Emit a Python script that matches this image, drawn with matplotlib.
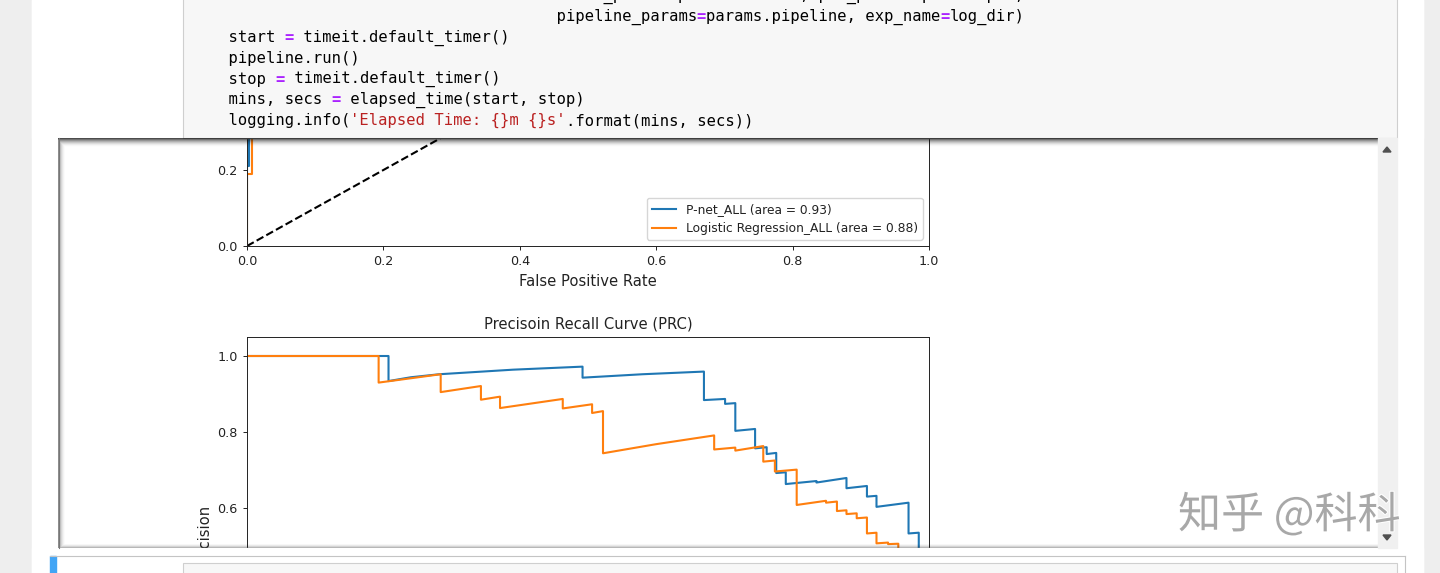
import numpy as np
import matplotlib
matplotlib.use("Agg")
import matplotlib.pyplot as plt
from matplotlib.patches import Rectangle, Polygon
import matplotlib.patheffects as pe

# ===== データ =====
model_names = ["P-net_ALL", "Logistic Regression_ALL"]
model_auc = [0.93, 0.88]

# ROC (only the bottom of it is visible in the screenshot)
roc_pnet_fpr = [0.0, 0.0, 0.003, 0.003, 0.012, 0.012, 0.03, 0.03, 0.06, 0.06,
                0.12, 0.12, 0.25, 0.25, 0.45, 0.45, 1.0]
roc_pnet_tpr = [0.0, 0.21, 0.21, 0.52, 0.52, 0.64, 0.64, 0.72, 0.72, 0.80,
                0.80, 0.88, 0.88, 0.95, 0.95, 1.0, 1.0]
roc_lr_fpr = [0.0, 0.0, 0.007, 0.007, 0.02, 0.02, 0.05, 0.05, 0.1, 0.1,
              0.2, 0.2, 0.35, 0.35, 0.6, 0.6, 1.0]
roc_lr_tpr = [0.0, 0.19, 0.19, 0.42, 0.42, 0.55, 0.55, 0.64, 0.64, 0.72,
              0.72, 0.82, 0.82, 0.90, 0.90, 0.97, 1.0]

# PRC
prc_pnet_recall = [0.0, 0.2075, 0.2075, 0.24, 0.282, 0.39, 0.492, 0.492, 0.58, 0.670,
                   0.670, 0.701, 0.701, 0.716, 0.716, 0.745, 0.745, 0.762, 0.762, 0.776,
                   0.776, 0.790, 0.790, 0.835, 0.835, 0.879, 0.879, 0.909, 0.909, 0.923,
                   0.923, 0.970, 0.970, 0.985, 0.985, 1.0]
prc_pnet_precision = [1.0, 1.0, 0.934, 0.944, 0.952, 0.964, 0.972, 0.943, 0.952, 0.959,
                      0.884, 0.887, 0.874, 0.876, 0.803, 0.808, 0.757, 0.760, 0.742, 0.745,
                      0.692, 0.694, 0.663, 0.671, 0.667, 0.679, 0.652, 0.658, 0.630, 0.632,
                      0.603, 0.614, 0.533, 0.535, 0.45, 0.45]
prc_lr_recall = [0.0, 0.193, 0.193, 0.284, 0.284, 0.343, 0.343, 0.371, 0.371, 0.463,
                 0.463, 0.506, 0.506, 0.522, 0.522, 0.60, 0.685, 0.685, 0.716, 0.716,
                 0.757, 0.757, 0.774, 0.774, 0.806, 0.806, 0.849, 0.849, 0.865, 0.865,
                 0.879, 0.879, 0.894, 0.894, 0.909, 0.909, 0.923, 0.923, 0.940, 0.940,
                 0.955, 0.955, 1.0]
prc_lr_precision = [1.0, 1.0, 0.930, 0.952, 0.905, 0.921, 0.885, 0.893, 0.863, 0.887,
                    0.862, 0.873, 0.850, 0.855, 0.744, 0.768, 0.791, 0.754, 0.759, 0.751,
                    0.763, 0.722, 0.725, 0.696, 0.701, 0.608, 0.619, 0.614, 0.617, 0.592,
                    0.594, 0.584, 0.586, 0.573, 0.575, 0.533, 0.535, 0.507, 0.509, 0.505,
                    0.506, 0.40, 0.40]

code_lines = [
    " " * 39 + "model_params=params.models, pre_params=params.pre,",
    " " * 39 + "pipeline_params=params.pipeline, exp_name=log_dir)",
    "    start = timeit.default_timer()",
    "    pipeline.run()",
    "    stop = timeit.default_timer()",
    "    mins, secs = elapsed_time(start, stop)",
    "    logging.info('Elapsed Time: {}m {}s'.format(mins, secs))",
]

watermark = "知乎 @科科"

# ===== レイアウト (pixel) =====
W, H = 1440, 573


def box(x0, y0, x1, y1):
    return [x0 / W, 1 - y1 / H, (x1 - x0) / W, (y1 - y0) / H]


plt.rcParams["font.family"] = ["DejaVu Sans"]
plt.rcParams["axes.linewidth"] = 0.7
plt.rcParams["axes.edgecolor"] = "#222222"
plt.rcParams["xtick.major.size"] = 3.1
plt.rcParams["ytick.major.size"] = 3.1
plt.rcParams["xtick.major.width"] = 0.7
plt.rcParams["ytick.major.width"] = 0.7
plt.rcParams["xtick.labelsize"] = 9.2
plt.rcParams["ytick.labelsize"] = 9.2
plt.rcParams["xtick.color"] = "#222222"
plt.rcParams["ytick.color"] = "#222222"
plt.rcParams["axes.labelsize"] = 10.6
plt.rcParams["axes.titlesize"] = 10.6
plt.rcParams["text.color"] = "#222222"
plt.rcParams["axes.labelcolor"] = "#222222"
plt.rcParams["lines.linewidth"] = 1.5

fig = plt.figure(figsize=(W / 100, H / 100), dpi=100)

# ===== 背景 =====
bg = fig.add_axes([0, 0, 1, 1], zorder=-10)
bg.set_xlim(0, W)
bg.set_ylim(H, 0)
bg.axis("off")
bg.add_patch(Rectangle((0, 0), W, H, color="#eeeeee"))
bg.add_patch(Rectangle((32, 0), 1391, H, color="white"))

# ===== ROC (title / y label sit under the code cell) =====
roc = fig.add_axes(box(247, 246 - 1.05 * 380, 929, 246))
roc.plot([0, 1], [0, 1], "k--")
roc.plot(roc_pnet_fpr, roc_pnet_tpr,
         label="%s (area = %0.2f)" % (model_names[0], model_auc[0]))
roc.plot(roc_lr_fpr, roc_lr_tpr,
         label="%s (area = %0.2f)" % (model_names[1], model_auc[1]))
roc.set_xlim([0.0, 1.0])
roc.set_ylim([0.0, 1.05])
roc.set_xlabel("False Positive Rate")
roc.legend(loc="lower right", fontsize=8.8)

# ===== PRC =====
prc = fig.add_axes(box(247, 337, 929, 337 + 1.05 * 380))
prc.plot(prc_pnet_recall, prc_pnet_precision, label=model_names[0])
prc.plot(prc_lr_recall, prc_lr_precision, label=model_names[1])
prc.set_xlim([0.0, 1.0])
prc.set_ylim([0.0, 1.05])
prc.set_ylabel("Precision")
prc.set_title("Precisoin Recall Curve (PRC)")

# ===== 前面 (notebook UI) =====
ov = fig.add_axes([0, 0, 1, 1], zorder=10)
ov.set_xlim(0, W)
ov.set_ylim(H, 0)
ov.axis("off")

# code cell
ov.add_patch(Rectangle((32, -2), 1391, 140, color="white"))
ov.add_patch(Rectangle((183, -5), 1397 - 183, 137.5 + 5,
                       facecolor="#f7f7f7", edgecolor="#cfcfcf", lw=0.8))

fs_code = 11.2
char_w = 0.6021 * fs_code * 100 / 72
code_x0 = 191
code_y = [-4.1 + 20.8 * i for i in range(len(code_lines))]
for line, y in zip(code_lines, code_y):
    runs = []
    in_str = False
    for ch in line:
        if ch == "'":
            kind = "str"
            in_str = not in_str
        elif in_str:
            kind = "str"
        elif ch == "=":
            kind = "op"
        else:
            kind = "txt"
        if runs and runs[-1][0] == kind:
            runs[-1][1] += ch
        else:
            runs.append([kind, ch])
    col = 0
    for kind, s in runs:
        color = {"str": "#ba2121", "op": "#aa22ff", "txt": "#000000"}[kind]
        weight = "bold" if kind == "op" else "normal"
        if s.strip():
            ov.text(code_x0 + col * char_w, y, s, family="DejaVu Sans Mono",
                    fontsize=fs_code, color=color, weight=weight,
                    va="center", ha="left")
        col += len(s)

# output area inset shadow
bw, bh = 1378 - 58, 548 - 138
yy, xx = np.mgrid[0:bh, 0:bw] + 0.5
a_top = 0.7 * np.clip(1 - (yy - 0.5) / 9, 0, 1) ** 2
a_bot = 0.35 * np.clip(1 - (bh - yy) / 5, 0, 1) ** 2
a_left = 0.5 * np.clip(1 - xx / 8, 0, 1) ** 2
shadow = np.zeros((bh, bw, 4))
shadow[..., 3] = np.maximum(np.maximum(a_top, a_bot), a_left)
ov.imshow(shadow, extent=(58, 1378, 548, 138), aspect="auto",
          interpolation="nearest", zorder=3)
ov.plot([58.5, 58.5], [138, 548], color="#777777", lw=0.8, zorder=4)

# scrollbar
ov.add_patch(Rectangle((1378, 138), 19, 410, color="#f0f0f0", zorder=5))
ov.add_patch(Polygon([[1383, 152], [1391, 152], [1387, 147]],
                     color="#505050", zorder=6))
ov.add_patch(Polygon([[1383, 535], [1391, 535], [1387, 540]],
                     color="#505050", zorder=6))

# next cell
ov.add_patch(Rectangle((32, 548), 1391, 30, color="white"))
ov.plot([50, 1405], [555.5, 555.5], color="#c4c4c4", lw=0.8)
ov.plot([1405, 1405], [555.5, 580], color="#c4c4c4", lw=0.8)
ov.add_patch(Rectangle((50, 556), 5.5, 20, color="#42a5f5"))
ov.add_patch(Rectangle((183, 563), 1397 - 183, 20,
                       facecolor="#f7f7f7", edgecolor="#cfcfcf", lw=0.8))

# watermark
ov.text(1178, 516, watermark, family=["Noto Sans CJK SC", "DejaVu Sans"],
        fontsize=31, color="#a8a8a8", ha="left", va="center", zorder=8,
        path_effects=[pe.withStroke(linewidth=1.5, foreground="white")])

fig.savefig("out.png", dpi=100)
